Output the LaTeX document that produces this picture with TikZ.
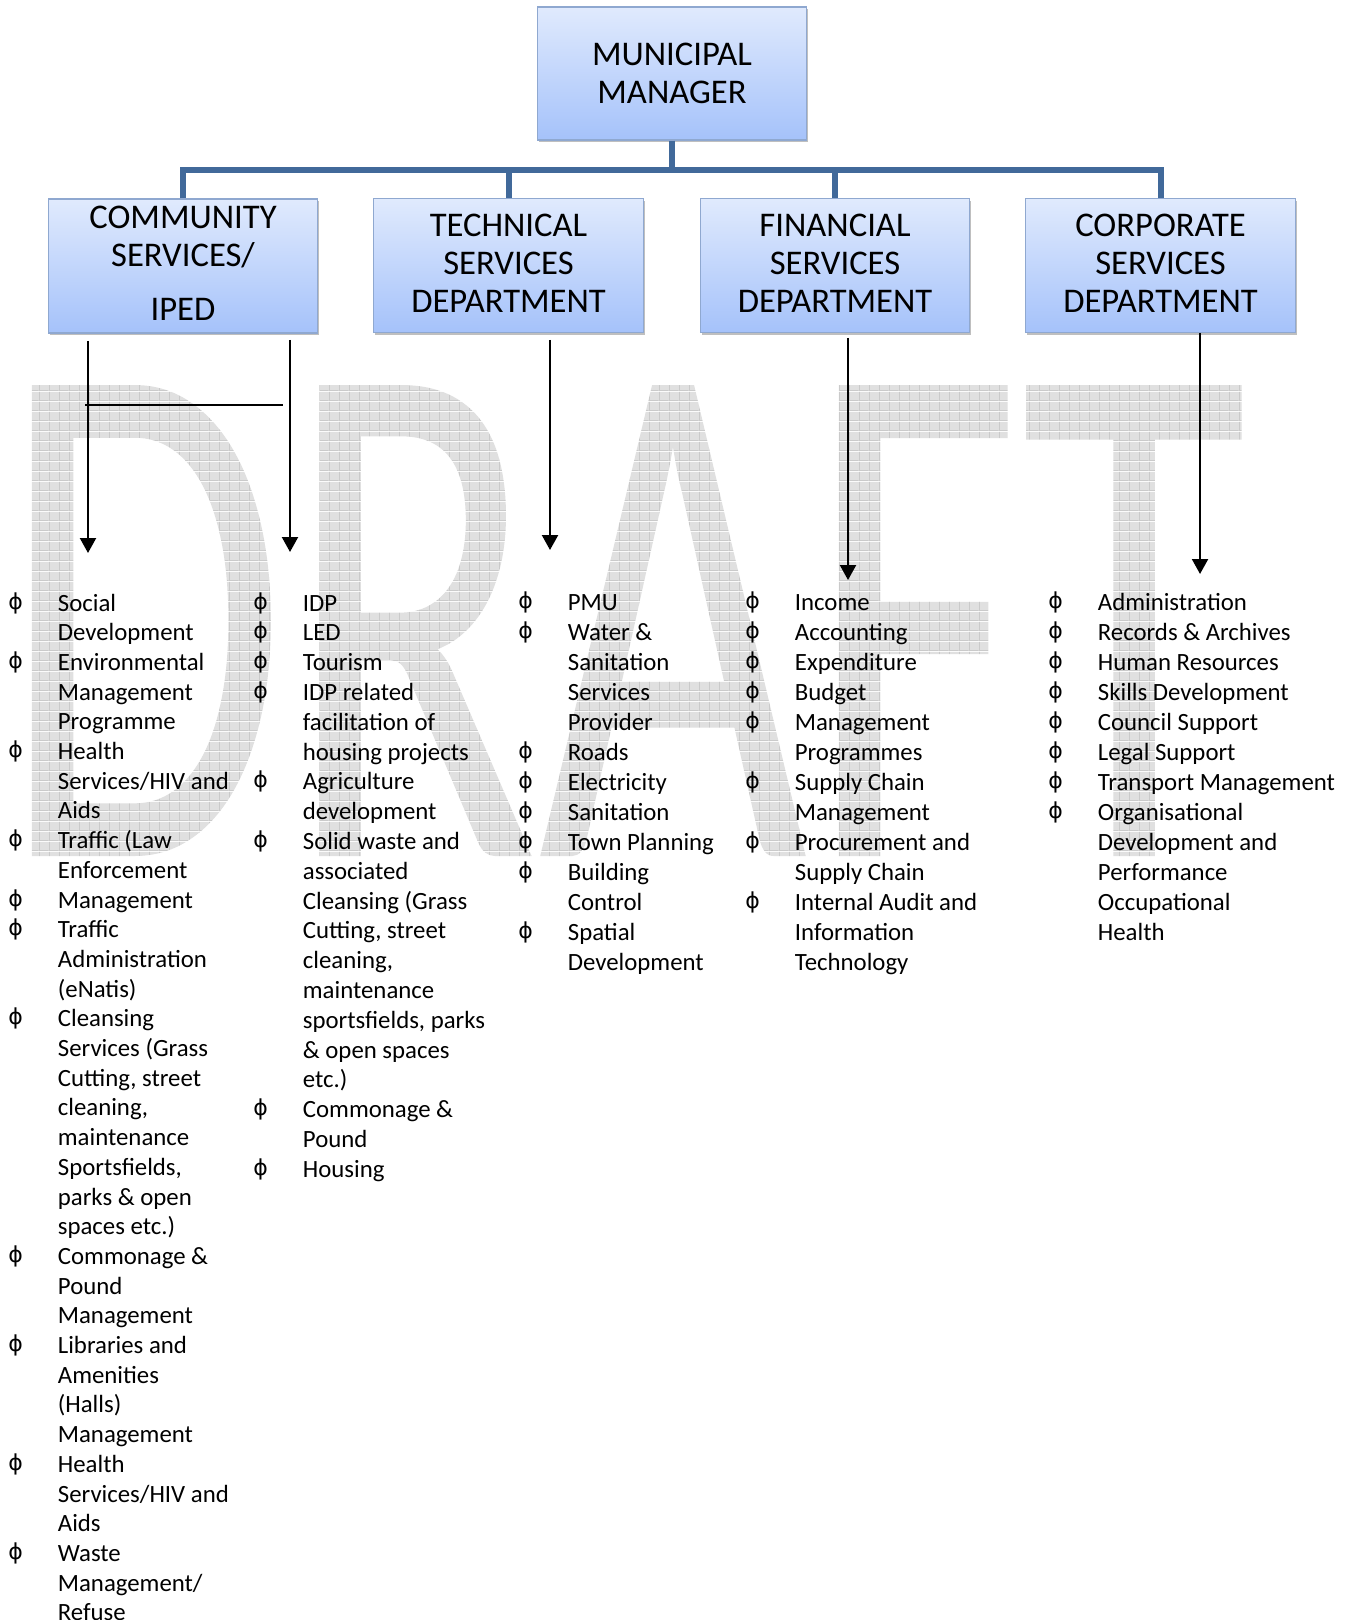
\documentclass[tikz,border=0pt]{standalone}
\usepackage{fontspec}
\setmainfont{Carlito}
\newfontfamily\symfont{DejaVu Sans}
\newfontfamily\wmfont{Carlito}
\usetikzlibrary{arrows.meta,shadows}
\definecolor{boxtop}{HTML}{E0EAFD}
\definecolor{boxbot}{HTML}{A5C2FA}
\definecolor{boxline}{HTML}{8FA8D0}
\definecolor{conn}{HTML}{41699A}
\definecolor{wm}{HTML}{E0E0E0}
\definecolor{wmgridc}{HTML}{CACACA}
\pgfdeclarepatterninherentlycolored{wmpat}{\pgfpointorigin}{\pgfpoint{5pt}{5pt}}{\pgfpoint{5pt}{5pt}}{%
  \pgfsetfillcolor{wm}%
  \pgfpathrectangle{\pgfpointorigin}{\pgfpoint{5pt}{5pt}}\pgfusepath{fill}%
  \pgfsetstrokecolor{wmgridc}\pgfsetlinewidth{0.5pt}%
  \pgfpathmoveto{\pgfpoint{0pt}{0.25pt}}\pgfpathlineto{\pgfpoint{5pt}{0.25pt}}%
  \pgfpathmoveto{\pgfpoint{0.25pt}{0pt}}\pgfpathlineto{\pgfpoint{0.25pt}{5pt}}%
  \pgfusepath{stroke}}
\newcommand\bul{\makebox[23.75pt][l]{\hspace*{-1pt}\raisebox{1pt}{\symfont\fontsize{11}{11}\selectfont ϕ}}}
\newcommand\ind{\hspace*{23.75pt}}
\tikzset{
  ubox/.style={draw=boxline, line width=0.6pt, top color=boxtop, bottom color=boxbot,
    minimum width=134.75pt, minimum height=67pt, inner sep=0pt,
    drop shadow={shadow xshift=0.8pt, shadow yshift=-1.2pt, fill=black!50}},
  btext/.style={inner sep=0pt, align=center, font=\fontsize{17.3}{19}\selectfont},
  orgline/.style={draw=conn, line width=3pt, line join=miter},
  arr/.style={draw=black, line width=1.1pt, -{Triangle[length=7.5pt,width=8pt]}},
  plain/.style={draw=black, line width=1.1pt},
  listcol/.style={anchor=base west, inner sep=0pt},
  wmark/.style={anchor=base west, inner sep=0pt, text=wm, font=\wmfont\fontsize{367}{367}\selectfont}
}
\begin{document}
\begin{tikzpicture}[x=0.5pt,y=-0.5pt]
\fill[white] (0,0) rectangle (1355,1620);
\useasboundingbox (0,0) rectangle (1355,1620);
% watermark
\node[wmark] (wmk) at (0,856) {\scalebox{0.633}[1]{\pgfsetfillpattern{wmpat}{black}DRAFT}};
% boxes
\node[ubox, minimum height=66.5pt] (mm) at (672,73.5) {};
\node[btext] (mmt) at (672,73.5) {MUNICIPAL\\MANAGER};
\node[ubox] (cs) at (183,266) {};
\node[btext] (cst) at (183,263) {COMMUNITY\\SERVICES/\\[8pt]IPED};
\node[ubox] (ts) at (508.5,265.5) {};
\node[btext] (tst) at (508.5,263.5) {TECHNICAL\\SERVICES\\DEPARTMENT};
\node[ubox] (fs) at (835,265.5) {};
\node[btext] (fst) at (835,263.5) {FINANCIAL\\SERVICES\\DEPARTMENT};
\node[ubox] (co) at (1160.5,265.5) {};
\node[btext] (cot) at (1160.5,263.5) {CORPORATE\\SERVICES\\DEPARTMENT};
% org connectors
\coordinate (bus) at (672,170);
\draw[orgline] (mm.south) -- (mm.south |- bus);
\draw[orgline] (cs.north) -- (cs.north |- bus) -- (co.north |- bus) -- (co.north);
\draw[orgline] (ts.north |- bus) -- (ts.north);
\draw[orgline] (fs.north |- bus) -- (fs.north);
% arrows
\coordinate (a1s) at (88,341); \coordinate (a1e) at (88,553);
\coordinate (a2s) at (290,340); \coordinate (a2e) at (290,552);
\coordinate (a3s) at (550,340); \coordinate (a3e) at (550,550);
\coordinate (a4s) at (848,338); \coordinate (a4e) at (848,580);
\coordinate (a5s) at (1200,333); \coordinate (a5e) at (1200,574);
\coordinate (h1) at (85,405); \coordinate (h2) at (283,405);
\draw[arr] (a1s) -- (a1e);
\draw[arr] (a2s) -- (a2e);
\draw[arr] (a3s) -- (a3e);
\draw[arr] (a4s) -- (a4e);
\draw[arr] (a5s) -- (a5e);
\draw[plain] (h1) -- (h2);
% lists
\node[listcol, font=\fontsize{12.4}{14.85}\selectfont] (l1) at (10,611) {\begin{tabular}[t]{@{}l@{}}
\bul Social\\ \ind Development\\
\bul Environmental\\ \ind Management\\ \ind Programme\\
\bul Health\\ \ind Services/HIV and\\ \ind Aids\\
\bul Traffic (Law\\ \ind Enforcement\\
\bul Management\\
\bul Traffic\\ \ind Administration\\ \ind (eNatis)\\
\bul Cleansing\\ \ind Services (Grass\\ \ind Cutting, street\\ \ind cleaning,\\ \ind maintenance\\ \ind Sportsfields,\\ \ind parks \& open\\ \ind spaces etc.)\\
\bul Commonage \&\\ \ind Pound\\ \ind Management\\
\bul Libraries and\\ \ind Amenities\\ \ind (Halls)\\ \ind Management\\
\bul Health\\ \ind Services/HIV and\\ \ind Aids\\
\bul Waste\\ \ind Management/\\ \ind Refuse
\end{tabular}};
\node[listcol, font=\fontsize{12.4}{14.9}\selectfont] (l2) at (255,611) {\begin{tabular}[t]{@{}l@{}}
\bul IDP\\
\bul LED\\
\bul Tourism\\
\bul IDP related\\ \ind facilitation of\\ \ind housing projects\\
\bul Agriculture\\ \ind development\\
\bul Solid waste and\\ \ind associated\\ \ind Cleansing (Grass\\ \ind Cutting, street\\ \ind cleaning,\\ \ind maintenance\\ \ind sportsfields, parks\\ \ind \& open spaces\\ \ind etc.)\\
\bul Commonage \&\\ \ind Pound\\
\bul Housing
\end{tabular}};
\node[listcol, font=\fontsize{12.4}{15}\selectfont] (l3) at (520,610) {\begin{tabular}[t]{@{}l@{}}
\bul PMU\\
\bul Water \&\\ \ind Sanitation\\ \ind Services\\ \ind Provider\\
\bul Roads\\
\bul Electricity\\
\bul Sanitation\\
\bul Town Planning\\
\bul Building\\ \ind Control\\
\bul Spatial\\ \ind Development
\end{tabular}};
\node[listcol, font=\fontsize{12.4}{15}\selectfont] (l4) at (747,610) {\begin{tabular}[t]{@{}l@{}}
\bul Income\\
\bul Accounting\\
\bul Expenditure\\
\bul Budget\\
\bul Management\\ \ind Programmes\\
\bul Supply Chain\\ \ind Management\\
\bul Procurement and\\ \ind Supply Chain\\
\bul Internal Audit and\\ \ind Information\\ \ind Technology
\end{tabular}};
\node[listcol, font=\fontsize{12.4}{15}\selectfont] (l5) at (1050,610) {\begin{tabular}[t]{@{}l@{}}
\bul Administration\\
\bul Records \& Archives\\
\bul Human Resources\\
\bul Skills Development\\
\bul Council Support\\
\bul Legal Support\\
\bul Transport Management\\
\bul Organisational\\ \ind Development and\\ \ind Performance\\ \ind Occupational\\ \ind Health
\end{tabular}};
\end{tikzpicture}
\end{document}
